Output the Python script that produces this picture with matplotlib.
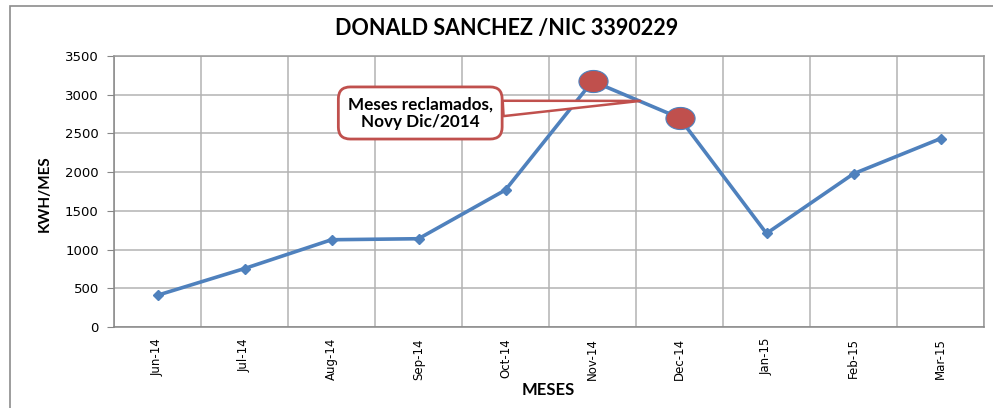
import matplotlib
matplotlib.use("Agg")
import matplotlib.pyplot as plt
from matplotlib.path import Path
import matplotlib.patches as mpatches
from matplotlib import font_manager
import numpy as np

months = ["Jun-14", "Jul-14", "Aug-14", "Sep-14", "Oct-14", "Nov-14",
          "Dec-14", "Jan-15", "Feb-15", "Mar-15"]
kwh = [410, 755, 1127, 1140, 1770, 3175, 2700, 1208, 1979, 2433]
claimed = ["Nov-14", "Dec-14"]
title = "DONALD SANCHEZ /NIC 3390229"
ylabel = "KWH/MES"
xlabel = "MESES"
callout = "Meses reclamados,\nNovy Dic/2014"

blue = "#4F81BD"
red = "#C0504D"
grid_c = "#B3B3B3"

installed = {f.name for f in font_manager.fontManager.ttflist}
narrow = "Liberation Sans Narrow" if "Liberation Sans Narrow" in installed else None
if narrow:
    tick_family, tick_size = [narrow, "DejaVu Sans"], 9.5
else:
    tick_family, tick_size = ["DejaVu Sans"], 8.5

fig = plt.figure(figsize=(9.93, 4.08), dpi=100)
fig.patch.set_facecolor("white")
# outer chart border
fig.add_artist(mpatches.Rectangle((10 / 993, -0.05), 1.2, (408 - 6) / 408 + 0.05,
                                  transform=fig.transFigure, fill=False,
                                  ec="#8C8C8C", lw=1.2))

ax = fig.add_axes([114 / 993, (408 - 327) / 408, (984 - 114) / 993, (327 - 56) / 408])
x = np.arange(len(months))
ax.plot(x, kwh, color=blue, lw=2.6, marker="D", markersize=5.5,
        markerfacecolor=blue, markeredgecolor=blue, zorder=3)

# ellipse markers on claimed months
t = np.linspace(0, 2 * np.pi, 60)
ell = Path(np.column_stack([1.32 * np.cos(t), np.sin(t)]), closed=True)
cx = [months.index(m) for m in claimed]
cy = [kwh[i] for i in cx]
ax.plot(cx, cy, linestyle="none", marker=ell, markersize=21,
        markerfacecolor=red, markeredgecolor=blue, markeredgewidth=0.8, zorder=4)

ax.set_xlim(-0.5, len(months) - 0.5)
ax.set_ylim(0, 3500)
ax.set_yticks(np.arange(0, 3501, 500))
ax.set_xticks(x)
ax.set_xticklabels(months, rotation=90, family=tick_family, fontsize=tick_size)
ax.set_xticks(np.arange(-0.5, len(months), 1), minor=True)
ax.tick_params(axis="x", which="major", length=0, pad=8)
ax.tick_params(axis="x", which="minor", length=0)
ax.tick_params(axis="y", length=5, color="#868686", labelsize=9.5, pad=6)
for lab in ax.get_yticklabels():
    lab.set_family(["Verdana", "DejaVu Sans"])
ax.grid(True, axis="y", which="major", color=grid_c, lw=1.1)
ax.grid(True, axis="x", which="minor", color=grid_c, lw=1.1)
ax.set_axisbelow(True)
for s in ax.spines.values():
    s.set_color("#9A9A9A")
    s.set_linewidth(1.1)
ax.spines["left"].set_color("#868686")
ax.spines["bottom"].set_color("#868686")

fig.text(507 / 993, 1 - 29 / 408, title, ha="center", va="center",
         fontsize=15.5, fontweight="bold", family=["Lato", "DejaVu Sans"])
fig.text(45 / 993, 1 - 194 / 408, ylabel, ha="center", va="center", rotation=90,
         fontsize=11, fontweight="bold", family=["Lato", "DejaVu Sans"])
fig.text(548 / 993, 1 - 390 / 408, xlabel, ha="center", va="center",
         fontsize=12, fontweight="bold", family=["Lato", "DejaVu Sans"])

ax.annotate(callout, xy=(5.55, 2920), xytext=(3.02, 2764),
            ha="center", va="center", fontsize=12.3, fontweight="bold",
            family=["Lato", "DejaVu Sans"], zorder=6, linespacing=1.1,
            bbox=dict(boxstyle="round,pad=0.55,rounding_size=0.7", fc="white",
                      ec=red, lw=2),
            arrowprops=dict(arrowstyle="wedge,tail_width=0.9,shrink_factor=0.5",
                            fc="white", ec=red, lw=1.8, shrinkA=0, shrinkB=0))

fig.savefig("out.png", dpi=100)
